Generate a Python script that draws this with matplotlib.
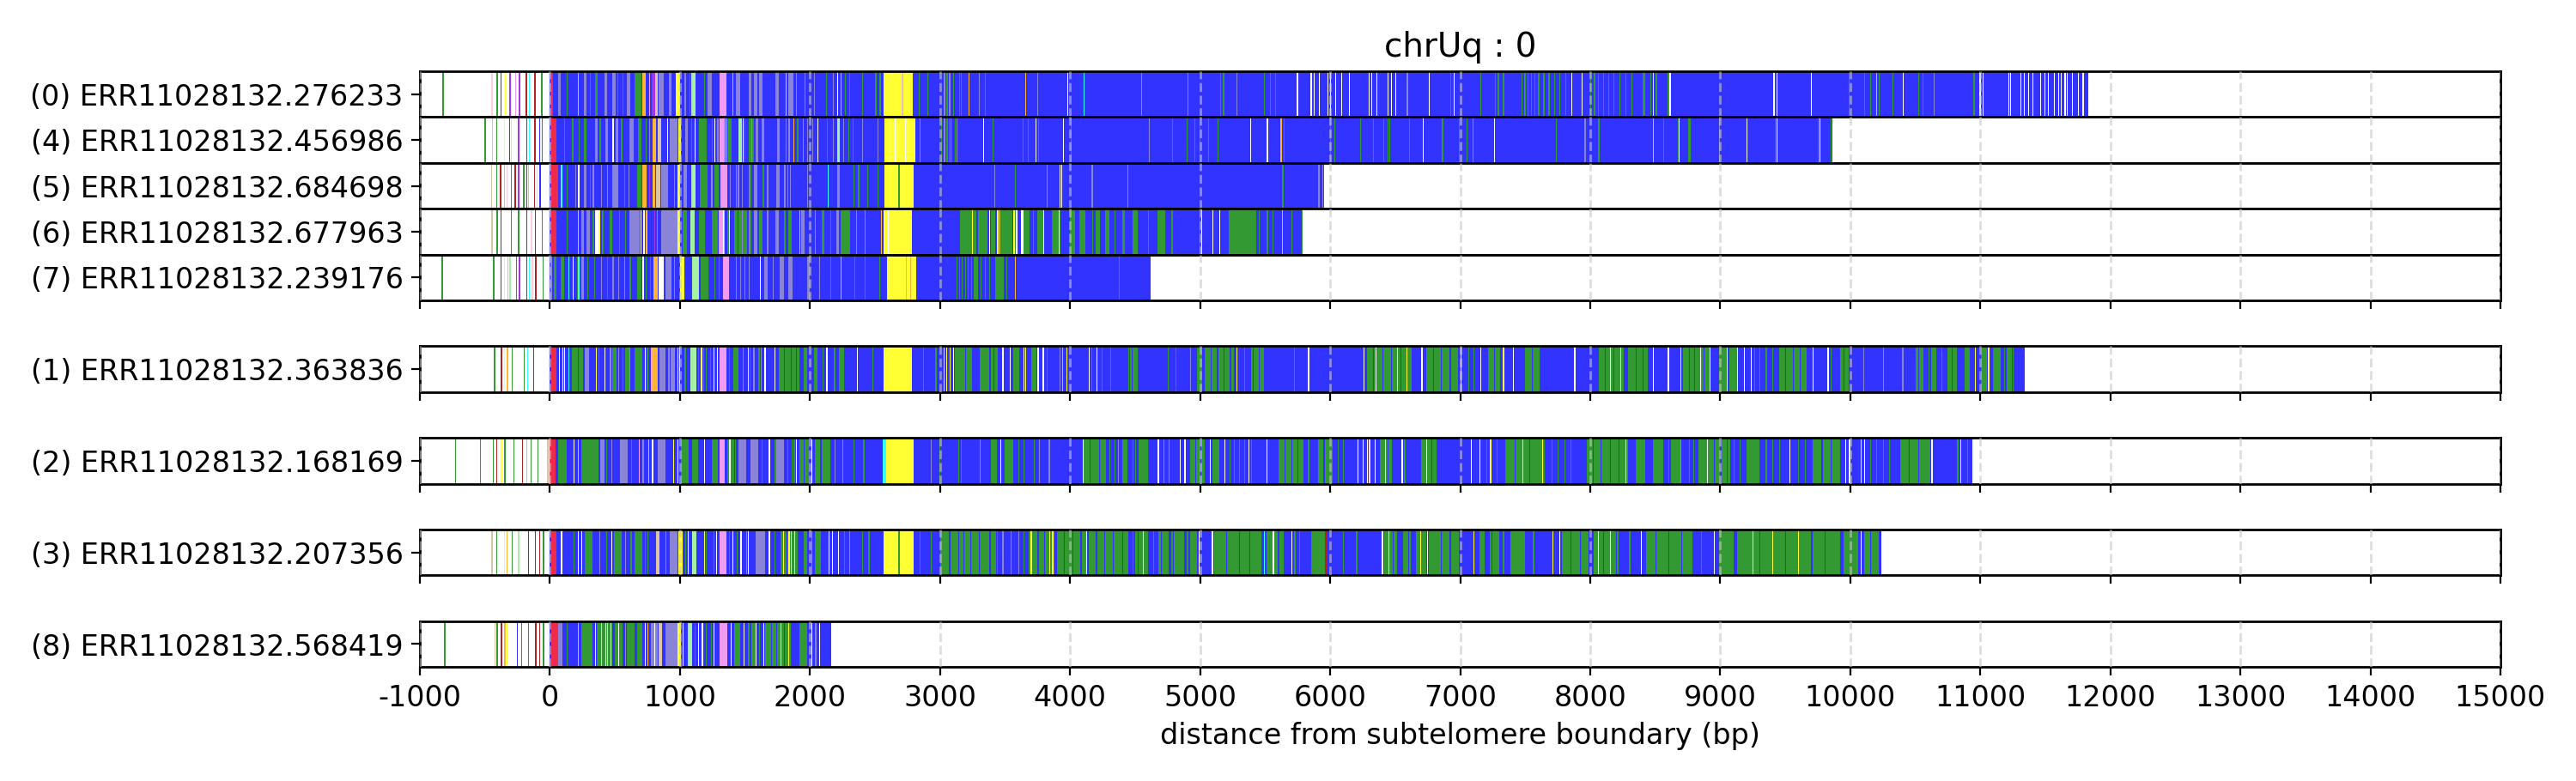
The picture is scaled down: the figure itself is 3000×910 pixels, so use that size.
import matplotlib
matplotlib.use("Agg")
import matplotlib.pyplot as plt

plt.rcParams['font.family'] = ['DejaVu Sans']
plt.rcParams['font.size'] = 12

# ---------------- data ----------------
read_labels = ["(0) ERR11028132.276233", "(4) ERR11028132.456986", "(5) ERR11028132.684698",
               "(6) ERR11028132.677963", "(7) ERR11028132.239176", "(1) ERR11028132.363836",
               "(2) ERR11028132.168169", "(3) ERR11028132.207356", "(8) ERR11028132.568419"]
read_slots = [0, 1, 2, 3, 4, 6, 8, 10, 12]
read_ends = [11830, 9864, 5956, 5788, 4621, 11342, 10939, 10239, 2165]

x_ticks = list(range(-1000, 15001, 1000))

color_codes = {'B': '#3333ff', 'G': '#339933', 'Y': '#ffff33', 'L': '#8a84d8', 'W': '#ffffff',
               'O': '#ffb733', 'V': '#f19bf1', 'P': '#a6f1a6', 'R': '#b22222', 'E': '#ee2b4b',
               'C': '#33ffff', 'M': '#a933dc', 'T': '#dbc3a3', 'K': '#ffcdd5'}

# read (0)
r0_blocks = [(6, 26, 'E'), (64, 86, 'L'), (262, 280, 'L'), (350, 368, 'G'), (420, 442, 'L'), (482, 504, 'L'),
             (594, 616, 'L'), (654, 702, 'G'), (713, 735, 'O'), (786, 808, 'M'), (812, 830, 'T'), (838, 878, 'L'),
             (912, 934, 'L'), (966, 1000, 'Y'), (1034, 1046, 'L'), (1087, 1120, 'P'), (1210, 1245, 'L'),
             (1307, 1358, 'V'), (1429, 1462, 'L'), (1528, 1550, 'L'), (1572, 1594, 'L'), (1610, 1638, 'L'),
             (1733, 1759, 'L'), (1836, 1870, 'L'), (2567, 2790, 'Y')]
r0_lines = [(-826, 'G'), (-449, 'K'), (-410, 'G'), (-379, 'R'), (-348, 'Y'), (-310, 'M'), (-266, 'V'), (-238, 'M'),
            (-185, 'R'), (-163, 'C'), (-119, 'R'), (-66, 'G'),
            (130, 'G'), (213, 'C'), (306, 'G'), (520, 'G'), (560, 'G'), (760, 'V'), (1075, 'G'), (1185, 'G'),
            (1405, 'O'), (1810, 'P'), (1890, 'L'), (1958, 'L'), (2030, 'L'), (2122, 'G'), (2178, 'L'), (2210, 'W'),
            (2233, 'O'), (2266, 'G'), (2299, 'G'), (2402, 'G'), (2503, 'G'), (2536, 'G'), (2700, 'K'), (2712, 'O'),
            (2838, 'G'), (2904, 'G'), (3030, 'L'), (3050, 'G'), (3070, 'L'), (3100, 'G'), (3146, 'G'), (3157, 'G'),
            (3217, 'O'), (3296, 'L'), (3345, 'G'), (3653, 'O'), (3747, 'L'), (3976, 'W'), (4103, 'C'), (4545, 'L'),
            (4905, 'L'), (5156, 'G'), (5177, 'G'), (5280, 'L'), (5493, 'G'), (5535, 'G'), (5577, 'G'), (5745, 'W'),
            (5851, 'W'), (5872, 'W'), (5914, 'W'), (5977, 'W'), (6000, 'W'), (6040, 'W'), (6083, 'W'), (6145, 'W'),
            (6295, 'W'), (6318, 'W'), (6356, 'W'), (6440, 'W'), (6470, 'W'), (6503, 'W'), (6590, 'L'), (6756, 'W'),
            (6925, 'G'), (6950, 'W'), (7157, 'G'), (7265, 'G'), (7290, 'G'), (7330, 'G'), (7472, 'G'), (7495, 'G'),
            (7520, 'G'), (7545, 'G'), (7570, 'G'), (7600, 'G'), (7640, 'G'), (7680, 'G'), (7720, 'G'), (7760, 'G'),
            (7810, 'G'), (7852, 'W'), (7935, 'W'), (8000, 'G'), (8030, 'G'), (8060, 'G'), (8100, 'G'), (8140, 'G'),
            (8180, 'G'), (8225, 'G'), (8273, 'G'), (8315, 'G'), (8400, 'G'), (8413, 'G'), (8460, 'G'), (8483, 'Y'),
            (8505, 'G'), (8598, 'G'), (8610, 'W'), (9409, 'W'), (9432, 'W'), (9696, 'W'), (9988, 'G'), (10104, 'G'),
            (10150, 'G'), (10200, 'C'), (10220, 'G'), (10322, 'G'), (10405, 'W'), (10521, 'G'), (10554, 'G'),
            (10640, 'L'), (10948, 'G'), (10994, 'W'), (11018, 'W'), (11217, 'W'), (11231, 'W'), (11310, 'W'),
            (11333, 'W'), (11365, 'W'), (11402, 'W'), (11462, 'W'), (11495, 'W'), (11518, 'W'), (11565, 'W'),
            (11597, 'W'), (11620, 'W'), (11648, 'W'), (11667, 'W'), (11704, 'W'), (11750, 'W'), (11787, 'W')]

# read (4)
r4_blocks = [(6, 53, 'E'), (262, 280, 'G'), (350, 370, 'L'), (427, 449, 'L'), (504, 526, 'L'), (614, 647, 'L'),
             (680, 702, 'G'), (790, 817, 'O'), (826, 857, 'T'), (923, 978, 'L'), (988, 1006, 'Y'), (1040, 1062, 'L'),
             (1143, 1204, 'G'), (1286, 1300, 'L'), (1307, 1341, 'V'), (1363, 1396, 'G'), (1451, 1473, 'P'),
             (1528, 1572, 'G'), (1583, 1605, 'L'), (1627, 1649, 'L'), (1748, 1770, 'L'), (2210, 2232, 'P'),
             (2574, 2809, 'Y')]
r4_lines = [(-502, 'G'), (-447, 'T'), (-414, 'G'), (-355, 'Y'), (-315, 'R'), (-300, 'K'), (-244, 'M'), (-183, 'R'),
            (-163, 'C'), (-119, 'R'), (-82, 'B'), (-64, 'G'),
            (110, 'G'), (172, 'G'), (222, 'G'), (383, 'G'), (482, 'W'), (548, 'G'), (735, 'G'), (760, 'L'),
            (900, 'W'), (1088, 'G'), (1110, 'W'), (1242, 'G'), (1264, 'W'), (1352, 'W'), (1484, 'W'), (1494, 'G'),
            (1550, 'L'), (1814, 'L'), (1836, 'L'), (1874, 'O'), (1902, 'G'), (1946, 'L'), (1979, 'L'), (2019, 'L'),
            (2056, 'W'), (2129, 'G'), (2178, 'L'), (2254, 'L'), (2294, 'G'), (2327, 'G'), (2398, 'L'), (2519, 'L'),
            (2618, 'W'), (2650, 'W'), (2672, 'W'), (2728, 'W'), (2750, 'W'), (2842, 'L'), (3007, 'G'), (3030, 'L'),
            (3050, 'G'), (3065, 'G'), (3080, 'L'), (3113, 'G'), (3124, 'L'), (3329, 'W'), (3406, 'G'), (3637, 'G'),
            (3675, 'G'), (3734, 'W'), (3752, 'G'), (3943, 'W'), (4005, 'G'), (4608, 'L'), (4785, 'G'), (4895, 'G'),
            (4954, 'G'), (4996, 'G'), (5063, 'G'), (5135, 'G'), (5387, 'W'), (5514, 'W'), (5619, 'O'), (5640, 'G'),
            (5998, 'G'), (6032, 'G'), (6230, 'G'), (6327, 'G'), (6410, 'G'), (6440, 'G'), (6453, 'G'), (6609, 'G'),
            (6714, 'W'), (6861, 'G'), (6988, 'G'), (7050, 'G'), (7095, 'L'), (7262, 'W'), (7734, 'G'), (7957, 'L'),
            (8062, 'G'), (8483, 'V'), (8559, 'G'), (8673, 'G'), (8681, 'W'), (8751, 'G'), (8762, 'G'), (8992, 'L'),
            (9201, 'W'), (9418, 'G'), (9432, 'W'), (9748, 'G'), (9765, 'W'), (9850, 'G')]

# read (5)
r5_blocks = [(6, 64, 'E'), (262, 284, 'L'), (330, 340, 'L'), (482, 526, 'L'), (669, 702, 'G'), (713, 742, 'O'),
             (790, 808, 'O'), (817, 846, 'T'), (856, 911, 'L'), (978, 1000, 'Y'), (1030, 1052, 'L'),
             (1088, 1121, 'P'), (1154, 1209, 'G'), (1264, 1298, 'G'), (1314, 1363, 'V'), (1440, 1455, 'L'),
             (1528, 1550, 'L'), (1572, 1594, 'L'), (1742, 1770, 'L'), (2210, 2232, 'L'), (2574, 2798, 'Y')]
r5_lines = [(-454, 'T'), (-414, 'G'), (-383, 'R'), (-355, 'O'), (-333, 'K'), (-300, 'G'), (-271, 'R'), (-244, 'M'),
            (-205, 'G'), (-183, 'R'), (-167, 'C'), (-123, 'R'), (-101, 'K'), (-79, 'B'),
            (85, 'C'), (130, 'G'), (192, 'L'), (218, 'W'), (306, 'G'), (394, 'L'), (438, 'L'), (570, 'G'),
            (603, 'L'), (760, 'M'), (955, 'L'), (1241, 'L'), (1385, 'L'), (1429, 'L'), (1473, 'L'), (1539, 'G'),
            (1638, 'G'), (1671, 'L'), (1803, 'L'), (1825, 'L'), (1847, 'L'), (1979, 'L'), (2138, 'C'), (2332, 'G'),
            (2371, 'G'), (2442, 'G'), (2519, 'G'), (2680, 'G'), (3415, 'L'), (3576, 'G'), (3818, 'L'), (3917, 'W'),
            (3932, 'W'), (4166, 'L'), (4440, 'L'), (5632, 'G'), (5910, 'L'), (5940, 'L')]

# read (6)
r6_blocks = [(6, 53, 'E'), (240, 262, 'L'), (284, 306, 'L'), (345, 372, 'W'), (372, 385, 'Y'), (460, 478, 'G'),
             (614, 691, 'L'), (735, 750, 'O'), (856, 978, 'L'), (978, 1000, 'Y'), (1022, 1055, 'G'),
             (1077, 1116, 'P'), (1143, 1191, 'G'), (1242, 1292, 'G'), (1301, 1345, 'V'), (1363, 1385, 'G'),
             (1418, 1440, 'G'), (1451, 1517, 'G'), (1528, 1550, 'L'), (1572, 1594, 'L'), (1610, 1638, 'G'),
             (1737, 1759, 'L'), (1836, 1858, 'G'), (1935, 1957, 'L'), (2035, 2046, 'G'), (2090, 2112, 'G'),
             (2200, 2222, 'L'), (2233, 2310, 'G'), (2567, 2785, 'Y'), (3155, 3278, 'G'), (3289, 3366, 'G'),
             (3392, 3425, 'G'), (3472, 3554, 'G'), (3640, 3680, 'G'), (3760, 3800, 'G'), (3862, 3928, 'G'),
             (4000, 4040, 'G'), (4071, 4120, 'G'), (4200, 4230, 'G'), (4270, 4300, 'G'), (4400, 4420, 'G'),
             (4480, 4520, 'G'), (4672, 4735, 'G'), (5219, 5430, 'G')]
r6_lines = [(-449, 'T'), (-410, 'G'), (-379, 'R'), (-300, 'G'), (-244, 'G'), (-183, 'R'), (-145, 'K'), (-117, 'R'),
            (-64, 'G'),
            (130, 'G'), (213, 'C'), (330, 'G'), (402, 'G'), (530, 'G'), (575, 'G'), (698, 'W'), (720, 'W'),
            (768, 'R'), (802, 'M'), (823, 'L'), (1330, 'W'), (1374, 'W'), (1473, 'L'), (1539, 'G'), (1671, 'L'),
            (1803, 'G'), (1916, 'O'), (2035, 'L'), (2156, 'G'), (2354, 'L'), (2420, 'L'), (2547, 'O'), (2596, 'W'),
            (3244, 'Y'), (3378, 'W'), (3440, 'Y'), (3459, 'Y'), (3565, 'Y'), (3576, 'G'), (3585, 'W'), (3590, 'Y'),
            (3620, 'W'), (3631, 'W'), (3682, 'G'), (3716, 'G'), (3750, 'G'), (3791, 'W'), (3913, 'W'), (4170, 'G'),
            (4340, 'G'), (4600, 'G'), (4780, 'G'), (4996, 'G'), (5010, 'W'), (5093, 'W'), (5148, 'W'), (5450, 'G'),
            (5514, 'G'), (5556, 'G'), (5628, 'O'), (5703, 'G'), (5780, 'G')]

# read (7)
r7_blocks = [(6, 20, 'L'), (31, 53, 'G'), (86, 108, 'G'), (240, 262, 'L'), (669, 702, 'G'), (797, 830, 'O'),
             (838, 878, 'W'), (889, 933, 'L'), (1000, 1033, 'Y'), (1094, 1143, 'P'), (1160, 1220, 'G'),
             (1330, 1380, 'V'), (1650, 1672, 'L'), (1770, 1803, 'L'), (1836, 1869, 'L'), (1979, 2001, 'L'),
             (2594, 2818, 'Y'), (3261, 3290, 'G'), (3422, 3492, 'G')]
r7_lines = [(-832, 'G'), (-436, 'G'), (-381, 'R'), (-355, 'Y'), (-326, 'T'), (-311, 'P'), (-262, 'G'), (-238, 'M'),
            (-183, 'R'), (-163, 'C'), (-139, 'K'), (-112, 'R'), (-57, 'G'),
            (141, 'C'), (174, 'W'), (207, 'G'), (218, 'C'), (288, 'G'), (339, 'G'), (394, 'L'), (438, 'G'),
            (482, 'L'), (526, 'L'), (570, 'L'), (614, 'G'), (713, 'W'), (735, 'G'), (768, 'G'), (955, 'L'),
            (1264, 'G'), (1297, 'G'), (1429, 'L'), (1462, 'L'), (1495, 'L'), (1528, 'L'), (1612, 'W'), (1711, 'L'),
            (2068, 'L'), (2156, 'G'), (2233, 'O'), (2343, 'G'), (2420, 'G'), (2530, 'G'), (2607, 'W'), (2739, 'O'),
            (2772, 'O'), (3124, 'G'), (3146, 'G'), (3168, 'G'), (3190, 'G'), (3212, 'G'), (3240, 'G'), (3310, 'G'),
            (3345, 'G'), (3378, 'G'), (3510, 'G'), (3576, 'O'), (4377, 'G')]

# read (1)
r1_blocks = [(12, 50, 'E'), (168, 256, 'G'), (271, 300, 'L'), (480, 510, 'G'), (580, 610, 'G'), (654, 713, 'G'),
             (786, 830, 'O'), (845, 889, 'L'), (907, 960, 'L'), (1080, 1125, 'P'), (1302, 1360, 'V'),
             (1410, 1450, 'G'), (1758, 1920, 'G'), (1950, 1980, 'G'), (2030, 2060, 'G'), (2220, 2260, 'G'),
             (2568, 2783, 'Y'), (3113, 3245, 'G'), (3303, 3443, 'G'), (3560, 3610, 'G'), (3700, 3740, 'G'),
             (4460, 4520, 'G'), (4978, 5015, 'G'), (5035, 5262, 'G'), (5413, 5490, 'G'), (6285, 6626, 'G'),
             (6740, 6986, 'G'), (7214, 7309, 'G'), (7498, 7612, 'G'), (8067, 8256, 'G'), (8294, 8446, 'G'),
             (8711, 8923, 'G'), (8992, 9131, 'G'), (9456, 9664, 'G'), (9919, 9988, 'G'), (10500, 10560, 'G'),
             (10620, 10660, 'G'), (10750, 10820, 'G'), (10880, 10916, 'G'), (11008, 11050, 'G'),
             (11100, 11160, 'G'), (11200, 11240, 'G')]
r1_lines = [(-430, 'G'), (-377, 'R'), (-353, 'Y'), (-330, 'O'), (-294, 'G'), (-200, 'G'), (-177, 'C'), (-127, 'R'),
            (70, 'W'), (95, 'W'), (110, 'W'), (140, 'C'), (212, 'B'), (353, 'Y'), (374, 'G'), (418, 'W'),
            (462, 'L'), (525, 'L'), (560, 'G'), (610, 'L'), (727, 'W'), (746, 'G'), (776, 'V'), (920, 'B'),
            (978, 'Y'), (995, 'W'), (1037, 'G'), (1140, 'G'), (1162, 'Y'), (1178, 'G'), (1200, 'G'), (1230, 'G'),
            (1257, 'W'), (1282, 'W'), (1375, 'G'), (1480, 'L'), (1520, 'Y'), (1535, 'G'), (1565, 'L'), (1605, 'G'),
            (1620, 'L'), (1650, 'W'), (1700, 'B'), (1729, 'W'), (1800, 'B'), (1850, 'B'), (1890, 'B'), (2095, 'G'),
            (2126, 'W'), (2185, 'G'), (2362, 'W'), (2480, 'G'), (2870, 'G'), (2965, 'G'), (3025, 'Y'), (3048, 'Y'),
            (3074, 'Y'), (3098, 'W'), (3190, 'B'), (3380, 'B'), (3410, 'B'), (3480, 'W'), (3538, 'W'), (3640, 'W'),
            (3655, 'Y'), (3750, 'W'), (3790, 'W'), (3820, 'G'), (3917, 'L'), (3940, 'O'), (3973, 'Y'), (4144, 'W'),
            (4165, 'G'), (4205, 'W'), (4240, 'G'), (4310, 'G'), (4447, 'G'), (4475, 'B'), (4750, 'G'), (4810, 'G'),
            (4920, 'L'), (5080, 'B'), (5130, 'B'), (5180, 'B'), (5230, 'B'), (5281, 'Y'), (5340, 'G'), (5395, 'G'),
            (5450, 'B'), (5720, 'G'), (5830, 'W'), (6255, 'W'), (6330, 'B'), (6350, 'W'), (6400, 'B'), (6470, 'B'),
            (6513, 'Y'), (6540, 'B'), (6589, 'Y'), (6702, 'W'), (6790, 'B'), (6850, 'B'), (6920, 'B'), (7005, 'W'),
            (7060, 'G'), (7100, 'G'), (7157, 'W'), (7260, 'B'), (7330, 'Y'), (7403, 'W'), (7550, 'B'), (7877, 'W'),
            (8110, 'B'), (8150, 'W'), (8180, 'B'), (8230, 'K'), (8350, 'B'), (8400, 'B'), (8480, 'W'), (8597, 'W'),
            (8692, 'Y'), (8760, 'B'), (8800, 'B'), (8844, 'W'), (8870, 'B'), (8920, 'W'), (9052, 'Y'), (9060, 'B'),
            (9131, 'Y'), (9180, 'W'), (9236, 'W'), (9260, 'G'), (9300, 'G'), (9350, 'G'), (9400, 'G'), (9500, 'B'),
            (9560, 'B'), (9610, 'B'), (9710, 'W'), (9826, 'W'), (9850, 'G'), (9950, 'B'), (10100, 'L'),
            (10250, 'L'), (10400, 'L'), (10520, 'B'), (10600, 'G'), (10700, 'G'), (10780, 'B'), (10960, 'Y'),
            (11060, 'Y'), (11180, 'G'), (11250, 'G')]

# read (2)
r2_blocks = [(0, 41, 'E'), (66, 130, 'G'), (241, 374, 'G'), (388, 418, 'L'), (536, 595, 'L'), (830, 889, 'L'),
             (1007, 1066, 'G'), (1095, 1140, 'G'), (1245, 1290, 'G'), (1302, 1346, 'V'), (1361, 1420, 'G'),
             (1450, 1510, 'L'), (1540, 1600, 'L'), (1743, 1802, 'L'), (1920, 1994, 'G'), (2038, 2156, 'G'),
             (2556, 2585, 'C'), (2585, 2798, 'Y'), (3390, 3440, 'G'), (3500, 3560, 'G'), (4106, 4277, 'G'),
             (4400, 4440, 'G'), (4530, 4600, 'G'), (4921, 5035, 'G'), (5092, 5150, 'G'), (5603, 5793, 'G'),
             (5906, 6020, 'G'), (6380, 6475, 'G'), (6702, 6816, 'G'), (7347, 7650, 'G'), (7972, 8294, 'G'),
             (8350, 8420, 'G'), (8480, 8560, 'G'), (8620, 8700, 'G'), (8830, 9074, 'G'), (9200, 9300, 'G'),
             (9711, 9919, 'G'), (10382, 10614, 'G')]
r2_lines = [(-730, 'G'), (-539, 'G'), (-442, 'G'), (-412, 'R'), (-377, 'Y'), (-350, 'G'), (-283, 'G'), (-215, 'R'),
            (-180, 'C'), (-147, 'G'), (-97, 'G'), (-20, 'T'),
            (183, 'W'), (212, 'C'), (432, 'G'), (470, 'L'), (625, 'G'), (683, 'V'), (713, 'L'), (757, 'T'),
            (786, 'W'), (948, 'Y'), (978, 'W'), (1110, 'G'), (1183, 'W'), (1380, 'W'), (1423, 'G'), (1625, 'G'),
            (1684, 'W'), (1730, 'G'), (1825, 'G'), (1856, 'G'), (1875, 'G'), (1890, 'W'), (1950, 'B'), (2010, 'W'),
            (2080, 'B'), (2190, 'L'), (2248, 'L'), (2335, 'G'), (2410, 'G'), (2930, 'L'), (2995, 'G'), (3140, 'G'),
            (3160, 'G'), (3303, 'L'), (3462, 'W'), (3600, 'G'), (3640, 'G'), (3680, 'B'), (3720, 'G'), (3760, 'L'),
            (3836, 'L'), (3900, 'B'), (3960, 'B'), (4040, 'B'), (4095, 'W'), (4150, 'B'), (4220, 'B'), (4300, 'G'),
            (4340, 'G'), (4370, 'L'), (4480, 'G'), (4500, 'G'), (4675, 'W'), (4720, 'L'), (4760, 'L'), (4845, 'W'),
            (4880, 'W'), (4960, 'B'), (5000, 'B'), (5073, 'W'), (5186, 'W'), (5225, 'G'), (5260, 'G'), (5300, 'G'),
            (5340, 'G'), (5370, 'W'), (5390, 'G'), (5508, 'W'), (5650, 'B'), (5700, 'B'), (5750, 'B'), (5830, 'G'),
            (5950, 'B'), (6060, 'G'), (6100, 'G'), (6209, 'W'), (6250, 'W'), (6285, 'W'), (6300, 'K'), (6342, 'W'),
            (6420, 'Y'), (6440, 'B'), (6550, 'W'), (6570, 'G'), (6740, 'W'), (6780, 'B'), (7081, 'W'), (7150, 'W'),
            (7200, 'G'), (7230, 'Y'), (7280, 'G'), (7420, 'B'), (7480, 'Y'), (7530, 'B'), (7630, 'Y'), (7700, 'G'),
            (7750, 'G'), (7800, 'G'), (7850, 'G'), (8020, 'B'), (8080, 'B'), (8150, 'B'), (8220, 'B'), (8270, 'Y'),
            (8330, 'B'), (8600, 'G'), (8691, 'L'), (8760, 'G'), (8790, 'G'), (8900, 'W'), (8950, 'B'), (9000, 'B'),
            (9050, 'B'), (9100, 'G'), (9150, 'G'), (9350, 'G'), (9400, 'G'), (9450, 'G'), (9530, 'W'), (9600, 'G'),
            (9650, 'G'), (9780, 'B'), (9850, 'B'), (9960, 'W'), (9990, 'W'), (10081, 'Y'), (10104, 'W'),
            (10150, 'G'), (10200, 'G'), (10250, 'G'), (10300, 'G'), (10450, 'B'), (10520, 'B'), (10624, 'W'),
            (10823, 'G'), (10845, 'Y'), (10900, 'G')]

# read (3)
r3_blocks = [(12, 50, 'E'), (271, 330, 'G'), (492, 551, 'G'), (654, 713, 'G'), (816, 845, 'T'), (919, 978, 'L'),
             (986, 1022, 'Y'), (1090, 1125, 'P'), (1302, 1360, 'V'), (1581, 1655, 'L'), (1773, 1905, 'G'),
             (1950, 1980, 'G'), (2040, 2085, 'G'), (2565, 2795, 'Y'), (3002, 3442, 'G'), (3683, 3882, 'G'),
             (3898, 4125, 'G'), (4144, 4447, 'G'), (4500, 4600, 'G'), (4680, 4760, 'G'), (4800, 4880, 'G'),
             (4920, 4978, 'G'), (5110, 5470, 'G'), (5508, 5641, 'G'), (5852, 5963, 'G'), (6418, 6513, 'G'),
             (6560, 6620, 'G'), (6660, 6740, 'G'), (6760, 6987, 'G'), (7150, 7190, 'G'), (7250, 7300, 'G'),
             (7384, 7498, 'G'), (7782, 7990, 'G'), (8029, 8218, 'G'), (8427, 8787, 'G'), (8990, 9100, 'G'),
             (9131, 9919, 'G'), (9950, 10060, 'G'), (10104, 10220, 'G')]
r3_lines = [(-450, 'T'), (-412, 'G'), (-353, 'Y'), (-335, 'O'), (-294, 'G'), (-244, 'P'), (-171, 'B'), (-118, 'R'),
            (-82, 'R'), (-53, 'G'),
            (85, 'W'), (183, 'G'), (212, 'W'), (241, 'W'), (380, 'L'), (430, 'G'), (470, 'W'), (580, 'L'),
            (620, 'G'), (727, 'M'), (750, 'G'), (890, 'L'), (1040, 'G'), (1060, 'W'), (1185, 'Y'), (1200, 'G'),
            (1260, 'G'), (1275, 'W'), (1375, 'G'), (1405, 'W'), (1435, 'G'), (1465, 'W'), (1508, 'L'), (1523, 'W'),
            (1684, 'W'), (1728, 'G'), (1790, 'Y'), (1820, 'B'), (1835, 'Y'), (1850, 'Y'), (1880, 'Y'), (2010, 'L'),
            (2141, 'W'), (2170, 'W'), (2215, 'W'), (2260, 'G'), (2300, 'L'), (2400, 'G'), (2450, 'G'), (2680, 'G'),
            (2840, 'G'), (2930, 'G'), (3070, 'B'), (3140, 'B'), (3180, 'B'), (3230, 'B'), (3300, 'B'), (3380, 'B'),
            (3430, 'B'), (3480, 'L'), (3540, 'L'), (3600, 'L'), (3640, 'G'), (3697, 'Y'), (3750, 'B'), (3800, 'B'),
            (3840, 'Y'), (3862, 'Y'), (3950, 'B'), (4020, 'B'), (4080, 'B'), (4125, 'W'), (4200, 'B'), (4260, 'B'),
            (4330, 'B'), (4400, 'B'), (4480, 'G'), (4520, 'B'), (4560, 'Y'), (4640, 'G'), (4700, 'B'), (4780, 'G'),
            (4900, 'G'), (4990, 'W'), (5091, 'W'), (5200, 'B'), (5300, 'B'), (5380, 'B'), (5489, 'C'), (5560, 'W'),
            (5600, 'B'), (5700, 'W'), (5725, 'G'), (5760, 'G'), (5963, 'R'), (6100, 'G'), (6200, 'G'), (6399, 'W'),
            (6450, 'Y'), (6480, 'B'), (6600, 'B'), (6690, 'Y'), (6745, 'W'), (6850, 'B'), (6920, 'B'), (7100, 'Y'),
            (7230, 'G'), (7330, 'G'), (7560, 'G'), (7707, 'Y'), (7763, 'W'), (7850, 'B'), (7920, 'B'), (8060, 'W'),
            (8100, 'B'), (8150, 'W'), (8200, 'B'), (8300, 'G'), (8389, 'W'), (8500, 'B'), (8600, 'B'), (8700, 'B'),
            (8850, 'G'), (8950, 'W'), (9250, 'Y'), (9300, 'B'), (9400, 'Y'), (9500, 'B'), (9600, 'Y'), (9700, 'B'),
            (9800, 'B'), (10081, 'W'), (10150, 'B')]

# read (8)
r8_blocks = [(12, 65, 'E'), (65, 95, 'L'), (241, 330, 'G'), (359, 477, 'G'), (500, 560, 'G'), (592, 650, 'G'),
             (669, 713, 'G'), (774, 830, 'L'), (835, 860, 'T'), (889, 978, 'L'), (978, 1007, 'Y'), (1060, 1090, 'P'),
             (1302, 1366, 'V'), (1420, 1465, 'G'), (1548, 1590, 'G'), (1655, 1861, 'G'), (1920, 1979, 'G')]
r8_lines = [(-813, 'G'), (-427, 'T'), (-410, 'G'), (-377, 'R'), (-350, 'O'), (-333, 'Y'), (-253, 'B'), (-221, 'M'),
            (-171, 'M'), (-112, 'R'), (-82, 'R'), (-53, 'G'),
            (130, 'G'), (212, 'C'), (345, 'Y'), (395, 'P'), (425, 'W'), (440, 'P'), (465, 'W'), (527, 'W'),
            (580, 'L'), (727, 'W'), (750, 'O'), (800, 'W'), (1022, 'W'), (1110, 'G'), (1140, 'W'), (1169, 'W'),
            (1198, 'G'), (1240, 'G'), (1257, 'W'), (1390, 'W'), (1490, 'W'), (1525, 'G'), (1580, 'W'), (1610, 'G'),
            (1640, 'W'), (1700, 'B'), (1740, 'B'), (1775, 'Y'), (1800, 'B'), (1830, 'Y'), (1850, 'B'), (1900, 'B'),
            (2008, 'W'), (2040, 'L'), (2070, 'W'), (2100, 'B')]

read_blocks = [r0_blocks, r4_blocks, r5_blocks, r6_blocks, r7_blocks, r1_blocks, r2_blocks, r3_blocks, r8_blocks]
read_lines = [r0_lines, r4_lines, r5_lines, r6_lines, r7_lines, r1_lines, r2_lines, r3_lines, r8_lines]

# ---------------- layout ----------------
FIG_W, FIG_H = 3000, 910
fig = plt.figure(figsize=(15, 4.55), dpi=200)
left = 489 / FIG_W
width = (2912 - 489) / FIG_W
top_px = 83
row_px = 53.4
line_w = 8

axes = []
for i, (label, slot) in enumerate(zip(read_labels, read_slots)):
    bottom = 1 - (top_px + (slot + 1) * row_px) / FIG_H
    ax = fig.add_axes([left, bottom, width, row_px / FIG_H])
    axes.append(ax)

    # base read (blue)
    ax.broken_barh([(0, read_ends[i])], (0, 1), facecolors=color_codes['B'], linewidth=0, antialiased=False)
    # blocks
    for code in color_codes:
        xr = [(s, e - s) for (s, e, c) in read_blocks[i] if c == code]
        if xr:
            ax.broken_barh(xr, (0, 1), facecolors=color_codes[code], linewidth=0, antialiased=False)
    # thin lines
    for code in color_codes:
        xr = [(p, line_w) for (p, c) in read_lines[i] if c == code]
        if xr:
            ax.broken_barh(xr, (0, 1), facecolors=color_codes[code], linewidth=0, antialiased=False)

    ax.set_xlim(-1000, 15000)
    ax.set_ylim(0, 1)
    ax.set_yticks([0.5])
    ax.set_yticklabels([label])
    ax.set_xticks(x_ticks)
    ax.set_axisbelow(False)
    ax.grid(axis='x', linestyle='--', color='#c8c8c8', alpha=0.6, linewidth=1.0)
    next_adjacent = (i + 1 < len(read_slots)) and (read_slots[i + 1] == slot + 1)
    if next_adjacent:
        ax.tick_params(axis='x', bottom=False, labelbottom=False)
    elif i != len(read_slots) - 1:
        ax.tick_params(axis='x', labelbottom=False)
    else:
        ax.set_xticklabels([str(t) for t in x_ticks])
        ax.set_xlabel('distance from subtelomere boundary (bp)')
    for sp in ax.spines.values():
        sp.set_linewidth(1.0)

axes[0].set_title('chrUq : 0', fontsize=14)

fig.savefig('out.png', dpi=200)
